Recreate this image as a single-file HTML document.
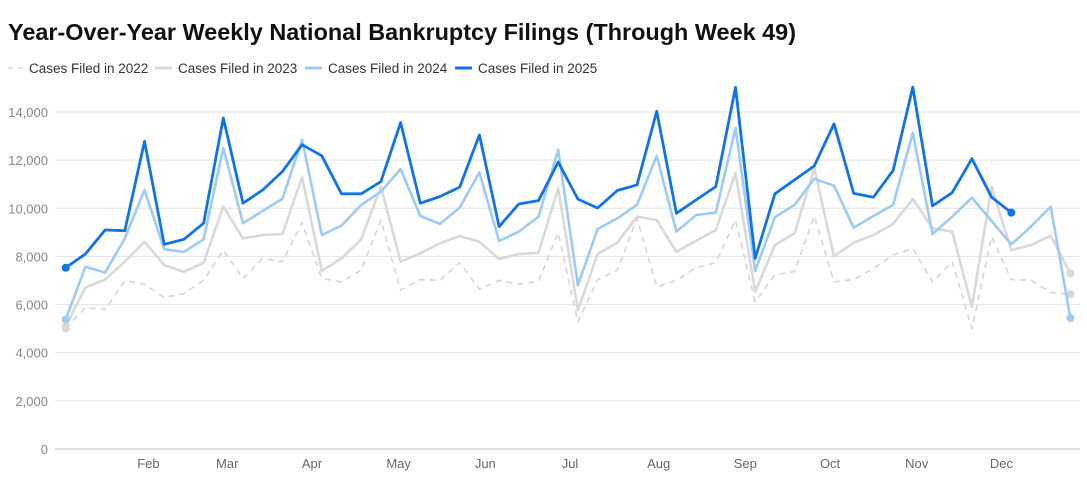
<!DOCTYPE html>
<html><head><meta charset="utf-8"><style>
html,body{margin:0;padding:0;background:#fff;}
svg{display:block;font-family:"Liberation Sans",sans-serif;}
</style></head><body>
<svg id="chart" width="1087" height="486" viewBox="0 0 1087 486">
<text x="8" y="40" font-size="23" font-weight="bold" fill="#111" textLength="788" lengthAdjust="spacingAndGlyphs">Year-Over-Year Weekly National Bankruptcy Filings (Through Week 49)</text>
<g id="legend"></g>
<g id="grid"></g>
<g id="series"></g>
</svg>
<script>
const yTicks = [0,2000,4000,6000,8000,10000,12000,14000];
const months = ["Feb","Mar","Apr","May","Jun","Jul","Aug","Sep","Oct","Nov","Dec"];
const monthWeeks = [5.2,9.2,13.5,17.9,22.3,26.6,31.1,35.5,39.8,44.2,48.5];
const seriesNames = ["Cases Filed in 2022","Cases Filed in 2023","Cases Filed in 2024","Cases Filed in 2025"];
const s2022 = [5000,5875,5790,6990,6850,6290,6460,7010,8260,7080,7920,7780,9400,7080,6940,7430,9510,6600,7040,7010,7740,6640,7010,6850,6970,8990,5280,7040,7430,9580,6740,7010,7530,7740,9510,6110,7240,7380,9680,6940,7040,7500,8060,8330,6940,7780,5000,8820,7040,7010,6500,6430];
const s2023 = [5100,6710,7040,7780,8610,7640,7360,7740,10070,8750,8890,8930,11290,7400,7920,8710,10900,7780,8130,8540,8850,8610,7890,8100,8150,10830,5760,8100,8570,9650,9510,8190,8650,9100,11460,6530,8470,8960,11670,8010,8570,8890,9350,10390,9170,9030,5900,10900,8260,8470,8860,7290];
const s2024 = [5380,7570,7330,8750,10760,8300,8190,8710,12500,9380,9890,10390,12850,8890,9280,10140,10690,11630,9680,9350,10030,11490,8640,9030,9650,12430,6800,9140,9580,10140,12180,9030,9720,9820,13330,7400,9630,10140,11220,10940,9190,9680,10140,13130,8930,9650,10440,9470,8500,9240,10070,5440];
const s2025 = [7530,8100,9100,9070,12780,8500,8710,9380,13750,10210,10760,11530,12640,12180,10600,10600,11110,13560,10210,10490,10880,13050,9240,10180,10320,11920,10380,10010,10740,10970,14030,9790,10350,10900,15020,7920,10600,11180,11760,13510,10620,10460,11570,15030,10100,10650,12060,10460,9820];
const colors = ["#d6d6d6","#d9d9d9","#9ecbf5","#1273e6"];
const widths = [1.6,2.6,2.6,2.8];
const NS="http://www.w3.org/2000/svg";
const X0=65.7, DX=19.7, Y0=449, YS=337/14000;
const xS = w => X0 + (w-1)*DX;
const yS = v => Y0 - v*YS;
function mk(tag, attrs, parent){const e=document.createElementNS(NS,tag);for(const k in attrs)e.setAttribute(k,attrs[k]);parent.appendChild(e);return e;}
const grid=document.getElementById('grid'), ser=document.getElementById('series'), leg=document.getElementById('legend');
yTicks.forEach(t=>{
  const l=mk('line',{x1:55,x2:1080,y1:yS(t),y2:yS(t),stroke:t===0?'#bbb':'#e3e3e3','stroke-width':1},grid);
  
  
  const tx=mk('text',{x:48,y:yS(t)+5,'text-anchor':'end','font-size':13,fill:'#888'},grid);
  tx.textContent=t.toLocaleString('en-US');
  
  
});
months.forEach((m,i)=>{
  const tx=mk('text',{x:xS(monthWeeks[i]),y:468,'text-anchor':'middle','font-size':13,fill:'#666'},grid);
  tx.textContent=m;
  
  
});
const all=[s2022,s2023,s2024,s2025];
all.forEach((s,i)=>{
  const pts=s.map((v,j)=>xS(j+1).toFixed(1)+','+yS(v).toFixed(1)).join(' ');
  const attrs={points:pts,fill:'none',stroke:colors[i],'stroke-width':widths[i],'stroke-linejoin':'round'};
  if(i===0)attrs['stroke-dasharray']='6,5';
  const p=mk('polyline',attrs,ser);
  
  
  [0,s.length-1].forEach(j=>{
    const c=mk('circle',{cx:xS(j+1),cy:yS(s[j]),r:4,fill:colors[i]},ser);
    
    
  });
});
const legX=[8,155,305,455];
seriesNames.forEach((n,i)=>{
  const g=mk('g',{},leg);
  
  
  const a={x1:legX[i],x2:legX[i]+17,y1:68,y2:68,stroke:colors[i],'stroke-width':i===0?1.6:3};
  if(i===0)a['stroke-dasharray']='5,5';
  mk('line',a,g);
  const t=mk('text',{x:legX[i]+(i===0?21:23),y:73,'font-size':13.5,fill:'#333'},g);
  t.textContent=n;
});
</script>
</body></html>
